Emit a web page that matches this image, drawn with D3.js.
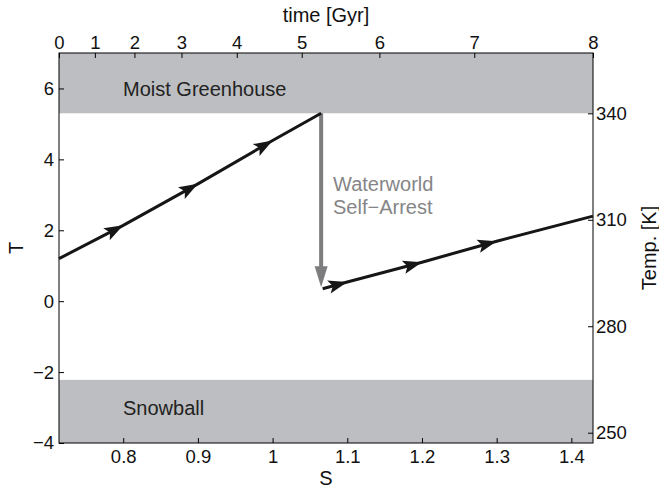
<!DOCTYPE html>
<html>
<head>
<meta charset="utf-8">
<script src="https://cdn.jsdelivr.net/npm/d3@7"></script>
<style>
  body { margin: 0; background: #fff; }
  text { font-family: "Liberation Sans", Arial, Helvetica, sans-serif; }
</style>
</head>
<body>
<div id="chart"></div>
<script>
const width = 659;
const height = 489;

// solar constant S (bottom axis) and nondimensional temperature T (left axis)
const sTicks = [0.8, 0.9, 1.0, 1.1, 1.2, 1.3, 1.4];
const tTicks = [-4, -2, 0, 2, 4, 6];
const kelvinTicks = [250, 280, 310, 340];

// top axis: age in Gyr and the S value it sits at
const timeTicks = [0, 1, 2, 3, 4, 5, 6, 7, 8];
const timeTickS = [0.714, 0.762, 0.815, 0.878, 0.952, 1.039, 1.143, 1.270, 1.429];

// climate regimes (T ranges)
const greenhouseBand = [5.3, 7];
const snowballBand = [-4, -2.22];

// trajectory before and after the waterworld self-arrest
const warmingPath = [
  {S: 0.714, T: 1.2}, {S: 0.8, T: 2.14}, {S: 0.9, T: 3.31},
  {S: 1.0, T: 4.53}, {S: 1.065, T: 5.3}
];
const arrestedPath = [
  {S: 1.067, T: 0.35}, {S: 1.1, T: 0.54}, {S: 1.2, T: 1.10},
  {S: 1.3, T: 1.69}, {S: 1.429, T: 2.40}
];
const jump = [{S: 1.065, T: 5.3}, {S: 1.065, T: 0.39}];

const plotLeft = 59, plotRight = 593, plotTop = 53, plotBottom = 443;

const x = d3.scaleLinear().domain([0.714, 1.429]).range([plotLeft, plotRight]);
const y = d3.scaleLinear().domain([-4, 7]).range([plotBottom, plotTop]);
const yK = d3.scaleLinear().domain([247.1, 357.0]).range([plotBottom, plotTop]);
const xTime = d3.scaleLinear().domain(timeTicks).range(timeTickS.map(x));

const svg = d3.select('#chart')
  .append('svg')
  .attr('width', width)
  .attr('height', height);

const band = '#bdbec1';
[greenhouseBand, snowballBand].forEach(function(b) {
  svg.append('rect')
    .attr('x', plotLeft)
    .attr('y', y(b[1]))
    .attr('width', plotRight - plotLeft)
    .attr('height', y(b[0]) - y(b[1]))
    .style('fill', band);
});

const tickFont = '18.5px';

function styleAxis(g) {
  g.select('.domain').remove();
  g.selectAll('.tick line').attr('stroke', '#000').attr('stroke-width', 1);
  g.selectAll('.tick text')
    .style('font-size', tickFont)
    .style('font-family', '"Liberation Sans", Arial, sans-serif')
    .attr('fill', '#111');
}

svg.append('g')
  .attr('transform', 'translate(0,' + plotBottom + ')')
  .call(d3.axisBottom(x).tickValues(sTicks).tickFormat(d3.format('')).tickSize(-5).tickPadding(7))
  .call(styleAxis);

svg.append('g')
  .attr('transform', 'translate(' + plotLeft + ',0)')
  .call(d3.axisLeft(y).tickValues(tTicks).tickFormat(function(d) { return d < 0 ? '\u2212' + (-d) : d; }).tickSize(-5).tickPadding(5))
  .call(styleAxis);

svg.append('g')
  .attr('transform', 'translate(' + plotRight + ',0)')
  .call(d3.axisRight(yK).tickValues(kelvinTicks).tickSize(-5).tickPadding(3))
  .call(styleAxis);

svg.append('g')
  .attr('transform', 'translate(0,' + plotTop + ')')
  .call(d3.axisTop(xTime).tickValues(timeTicks).tickSize(-5).tickPadding(4))
  .call(styleAxis);

svg.append('rect')
  .attr('x', plotLeft)
  .attr('y', plotTop)
  .attr('width', plotRight - plotLeft)
  .attr('height', plotBottom - plotTop)
  .style('fill', 'none')
  .style('stroke', '#000')
  .style('stroke-width', 1);

// region labels
svg.append('text').attr('x', 123).attr('y', 96).text('Moist Greenhouse')
  .style('font-size', '20px').attr('fill', '#222');
svg.append('text').attr('x', 123).attr('y', 415).text('Snowball')
  .style('font-size', '20px').attr('fill', '#222');

// self-arrest jump (gray arrow)
const gray = '#7d7d7f';
const jx = x(jump[0].S);
const jy0 = y(jump[0].T);
const jy1 = y(jump[1].T);
svg.append('line')
  .attr('x1', jx).attr('y1', jy0)
  .attr('x2', jx).attr('y2', jy1 - 16)
  .attr('stroke', gray)
  .attr('stroke-width', 4);
svg.append('path')
  .attr('d', 'M' + jx + ',' + jy1 + ' L' + (jx - 6.5) + ',' + (jy1 - 21) + ' L' + (jx + 6.5) + ',' + (jy1 - 21) + ' Z')
  .attr('fill', gray);

svg.append('text').attr('x', 333).attr('y', 191).text('Waterworld')
  .style('font-size', '20px').attr('fill', '#858587');
svg.append('text').attr('x', 333).attr('y', 213.5).text('Self\u2212Arrest')
  .style('font-size', '20px').attr('fill', '#858587');

// trajectories
const lineFunction = d3.line()
  .x(function(d) { return x(d.S); })
  .y(function(d) { return y(d.T); });

[warmingPath, arrestedPath].forEach(function(path) {
  svg.append('path')
    .attr('d', lineFunction(path))
    .attr('fill', 'none')
    .attr('stroke', '#161616')
    .attr('stroke-width', 3);

  for (let i = 1; i < path.length - 1; i++) {
    const p0 = path[i - 1];
    const p1 = path[i + 1];
    const ang = Math.atan2(y(p1.T) - y(p0.T), x(p1.S) - x(p0.S)) * 180 / Math.PI;
    svg.append('path')
      .attr('d', 'M0,0 L-19,-6.8 L-15,0 L-19,6.8 Z')
      .attr('transform', 'translate(' + x(path[i].S) + ',' + y(path[i].T) + ') rotate(' + ang + ')')
      .attr('fill', '#161616');
  }
});

// axis titles
svg.append('text')
  .attr('x', (plotLeft + plotRight) / 2)
  .attr('y', 21.5)
  .attr('text-anchor', 'middle')
  .style('font-size', '20px')
  .attr('fill', '#111')
  .text('time [Gyr]');

svg.append('text')
  .attr('x', (plotLeft + plotRight) / 2)
  .attr('y', 485)
  .attr('text-anchor', 'middle')
  .style('font-size', '20px')
  .attr('fill', '#111')
  .text('S');

svg.append('text')
  .attr('transform', 'translate(23,' + ((plotTop + plotBottom) / 2) + ') rotate(-90)')
  .attr('text-anchor', 'middle')
  .style('font-size', '20px')
  .attr('fill', '#111')
  .text('T');

svg.append('text')
  .attr('transform', 'translate(656,' + ((plotTop + plotBottom) / 2) + ') rotate(-90)')
  .attr('text-anchor', 'middle')
  .style('font-size', '20px')
  .attr('fill', '#111')
  .text('Temp. [K]');
</script>
</body>
</html>
